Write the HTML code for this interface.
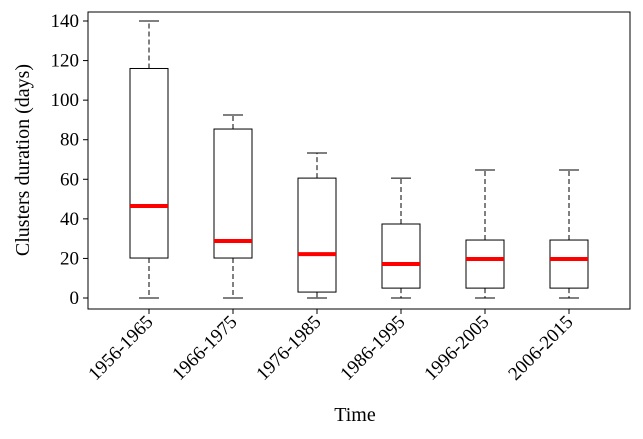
<!DOCTYPE html>
<html><head><meta charset="utf-8"><style>
body{margin:0;background:#fff}
svg{display:block;font-family:"Liberation Serif",serif}
</style></head><body>
<svg id="chart" width="643" height="439"></svg>
<script>
const categories=["1956-1965","1966-1975","1976-1985","1986-1995","1996-2005","2006-2015"];
const whiskerLow=[0,0,0,0,0,0];
const q1=[20.2,20.2,3,5,5,5];
const medians=[46.5,28.8,22.2,17.2,19.7,19.7];
const q3=[116,85.4,60.6,37.4,29.3,29.3];
const whiskerHigh=[140,92.5,73.3,60.6,64.7,64.7];
const yTicks=[0,20,40,60,80,100,120,140];

const NS="http://www.w3.org/2000/svg";
const svg=document.getElementById('chart');
const L=88,R=630,T=12,B=309;
const y=v=>298-v*(277/140);
const x=i=>149+84*i;
function mk(t,a,p){const e=document.createElementNS(NS,t);for(const k in a)e.setAttribute(k,a[k]);(p||svg).appendChild(e);return e;}

const frame=mk('rect',{x:L,y:T,width:R-L,height:B-T,fill:'none',stroke:'#000','stroke-width':1});



yTicks.forEach(v=>{
  const g=mk('g',{});
  
  
  mk('line',{x1:L-5,x2:L,y1:y(v),y2:y(v),stroke:'#000'},g);
  const t=mk('text',{x:L-9,y:y(v)+6,'text-anchor':'end','font-size':19},g);t.textContent=v;
});

categories.forEach((c,i)=>{
  const cx=x(i),w=38;
  const g=mk('g',{});
  
  
  mk('line',{x1:cx,x2:cx,y1:y(q3[i]),y2:y(whiskerHigh[i]),stroke:'#000','stroke-dasharray':'5,3'},g);
  mk('line',{x1:cx,x2:cx,y1:y(q1[i]),y2:y(whiskerLow[i]),stroke:'#000','stroke-dasharray':'5,3'},g);
  mk('line',{x1:cx-10,x2:cx+10,y1:y(whiskerHigh[i]),y2:y(whiskerHigh[i]),stroke:'#000'},g);
  mk('line',{x1:cx-10,x2:cx+10,y1:y(whiskerLow[i]),y2:y(whiskerLow[i]),stroke:'#000'},g);
  mk('rect',{x:cx-w/2,y:y(q3[i]),width:w,height:y(q1[i])-y(q3[i]),fill:'none',stroke:'#000'},g);
  mk('line',{x1:cx-w/2,x2:cx+w/2,y1:y(medians[i]),y2:y(medians[i]),stroke:'#ff0000','stroke-width':4},g);
  mk('line',{x1:cx,x2:cx,y1:B,y2:B+5,stroke:'#000'},g);
  const t=mk('text',{'text-anchor':'end','font-size':19,transform:`translate(${cx+5},${B+14}) rotate(-45)`});
  t.textContent=c;
  
  
});

const yl=mk('text',{'text-anchor':'middle','font-size':20,transform:'translate(29,160) rotate(-90)'});
yl.textContent='Clusters duration (days)';


const xl=mk('text',{x:355,y:421,'text-anchor':'middle','font-size':20});
xl.textContent='Time';


</script>
</body></html>
